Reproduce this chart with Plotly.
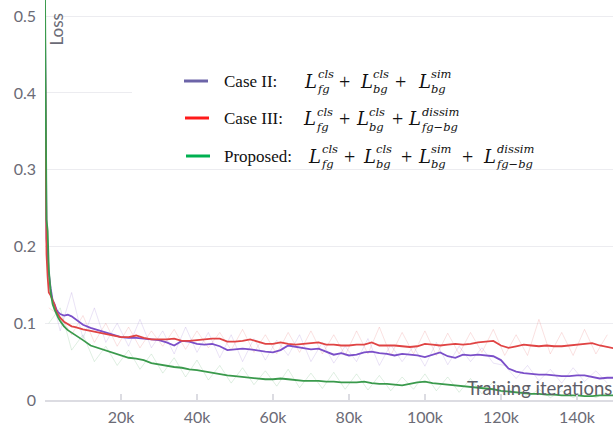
import plotly.graph_objects as go

# ---------------- data (iterations in thousands) ----------------
iters_k = [0, 0.2, 0.4, 0.7, 1.0, 1.5, 2.0, 2.5, 3, 3.5, 4, 5, 6, 7, 8, 9,
           10, 12, 14, 16, 18, 20, 22, 24, 26, 28, 30, 32, 34, 36, 38, 40,
           42, 44, 46, 48, 50, 52, 54, 56, 58, 60, 62, 64, 66, 68, 70, 72,
           74, 76, 78, 80, 82, 84, 86, 88, 90, 92, 94, 96, 98, 100, 102, 104,
           106, 108, 110, 112, 114, 116, 118, 120, 122, 124, 126, 128, 130, 132,
           134, 136, 138, 140, 142, 144, 146, 148, 150]

case2_smooth = [0.49, 0.33, 0.21, 0.19, 0.165, 0.145, 0.13, 0.125, 0.118, 0.114, 0.112, 0.110, 0.111, 0.109, 0.105, 0.101,
                0.098, 0.094, 0.091, 0.088, 0.085, 0.082, 0.081, 0.081, 0.080, 0.079, 0.078, 0.075, 0.071, 0.077, 0.076, 0.073,
                0.072, 0.073, 0.070, 0.065, 0.066, 0.067, 0.066, 0.064, 0.063, 0.062, 0.065, 0.071, 0.069, 0.067, 0.066, 0.067,
                0.063, 0.059, 0.061, 0.058, 0.059, 0.062, 0.063, 0.061, 0.060, 0.058, 0.060, 0.059, 0.058, 0.056, 0.059, 0.062,
                0.057, 0.055, 0.059, 0.058, 0.059, 0.058, 0.057, 0.052, 0.041, 0.037, 0.035, 0.034, 0.033, 0.033,
                0.032, 0.031, 0.031, 0.032, 0.032, 0.030, 0.028, 0.029, 0.029]

case3_smooth = [0.45, 0.25, 0.19, 0.16, 0.14, 0.136, 0.13, 0.124, 0.115, 0.111, 0.107, 0.102, 0.099, 0.096, 0.095, 0.093,
                0.092, 0.090, 0.088, 0.086, 0.084, 0.082, 0.082, 0.084, 0.081, 0.079, 0.079, 0.079, 0.080, 0.077, 0.077, 0.078,
                0.079, 0.080, 0.080, 0.076, 0.076, 0.077, 0.079, 0.076, 0.073, 0.073, 0.075, 0.073, 0.072, 0.073, 0.074, 0.075,
                0.072, 0.072, 0.071, 0.071, 0.072, 0.072, 0.075, 0.071, 0.071, 0.071, 0.070, 0.069, 0.070, 0.073, 0.072, 0.071,
                0.072, 0.073, 0.072, 0.073, 0.075, 0.076, 0.077, 0.071, 0.068, 0.070, 0.072, 0.071, 0.070, 0.071,
                0.070, 0.070, 0.071, 0.072, 0.073, 0.074, 0.071, 0.069, 0.067]

proposed_smooth = [0.53, 0.35, 0.235, 0.22, 0.17, 0.14, 0.125, 0.118, 0.112, 0.107, 0.103, 0.096, 0.091, 0.088, 0.085, 0.082,
                   0.078, 0.071, 0.068, 0.064, 0.061, 0.058, 0.055, 0.054, 0.052, 0.048, 0.046, 0.044, 0.043, 0.042, 0.040, 0.039,
                   0.037, 0.035, 0.034, 0.032, 0.031, 0.030, 0.029, 0.028, 0.027, 0.027, 0.028, 0.027, 0.026, 0.025, 0.025, 0.025,
                   0.024, 0.024, 0.023, 0.023, 0.023, 0.024, 0.022, 0.021, 0.021, 0.020, 0.019, 0.021, 0.023, 0.024, 0.022, 0.021,
                   0.020, 0.019, 0.018, 0.017, 0.016, 0.015, 0.014, 0.012, 0.011, 0.010, 0.009, 0.008, 0.008, 0.007,
                   0.007, 0.006, 0.006, 0.006, 0.005, 0.005, 0.006, 0.006, 0.006]

raw_iters_k = [1, 4, 7, 10, 13, 16, 19, 22, 25, 28, 31, 34, 37, 40, 43, 46, 49, 52, 55, 58,
               61, 64, 67, 70, 73, 76, 79, 82, 85, 88, 91, 94, 97, 100, 103, 106, 109, 112, 115, 118,
               121, 124, 127, 130, 133, 136, 139, 142, 145, 148]

case2_raw = [0.15, 0.09, 0.14, 0.08, 0.12, 0.075, 0.10, 0.07, 0.105, 0.068, 0.09, 0.06, 0.095, 0.062, 0.088, 0.055, 0.085, 0.05, 0.08, 0.052,
             0.078, 0.058, 0.085, 0.05, 0.075, 0.048, 0.07, 0.05, 0.08, 0.045, 0.072, 0.05, 0.07, 0.044, 0.075, 0.046, 0.07, 0.05, 0.068, 0.048,
             0.045, 0.028, 0.045, 0.025, 0.04, 0.022, 0.042, 0.024, 0.038, 0.022]
case3_raw = [0.12, 0.11, 0.085, 0.11, 0.075, 0.1, 0.07, 0.095, 0.068, 0.09, 0.07, 0.092, 0.066, 0.09, 0.068, 0.088, 0.065, 0.092, 0.062, 0.085,
             0.06, 0.088, 0.062, 0.09, 0.06, 0.085, 0.058, 0.09, 0.06, 0.095, 0.058, 0.088, 0.06, 0.09, 0.058, 0.087, 0.06, 0.088, 0.062, 0.092,
             0.058, 0.085, 0.058, 0.105, 0.06, 0.088, 0.058, 0.092, 0.06, 0.085]
proposed_raw = [0.10, 0.12, 0.065, 0.085, 0.05, 0.07, 0.045, 0.065, 0.04, 0.06, 0.035, 0.055, 0.03, 0.052, 0.026, 0.045, 0.022, 0.042, 0.02, 0.038,
                0.018, 0.04, 0.016, 0.035, 0.015, 0.036, 0.014, 0.034, 0.013, 0.032, 0.012, 0.03, 0.014, 0.034, 0.012, 0.03, 0.01, 0.028, 0.008, 0.024,
                0.006, 0.018, 0.004, 0.014, 0.003, 0.012, 0.003, 0.01, 0.003, 0.011]

x_tick_vals = [20, 40, 60, 80, 100, 120, 140]
x_tick_text = ["20k", "40k", "60k", "80k", "100k", "120k", "140k"]
y_tick_vals = [0, 0.1, 0.2, 0.3, 0.4, 0.5]
y_tick_text = ["0", "0.1", "0.2", "0.3", "0.4", "0.5"]

series_names = ["Case II:", "Case III:", "Proposed:"]
line_colors = ["#7b4fc9", "#e04444", "#3a9a4c"]
raw_colors = ["rgba(123,79,201,0.16)", "rgba(224,68,68,0.16)", "rgba(58,154,76,0.16)"]
legend_colors = ["#6c64a8", "#ff1a1a", "#00b050"]

smooth_sets = [case2_smooth, case3_smooth, proposed_smooth]
raw_sets = [case2_raw, case3_raw, proposed_raw]

# ---------------- figure ----------------
W, H = 613, 436
ML, MR, MT, MB = 45, 0, 0, 36
PW, PH = W - ML - MR, H - MT - MB


def px(x):
    return (x - ML) / PW


def py(y):
    return (MT + PH - y) / PH


fig = go.Figure()
for raw, col in zip(raw_sets, raw_colors):
    fig.add_trace(go.Scatter(x=raw_iters_k, y=raw, mode="lines",
                             line=dict(color=col, width=1), showlegend=False, hoverinfo="skip"))
for name, ys, col in zip(series_names, smooth_sets, line_colors):
    fig.add_trace(go.Scatter(x=iters_k, y=ys, mode="lines", name=name,
                             line=dict(color=col, width=1.8), showlegend=False))

grey = "#6b6b76"
tick_font = dict(family="Lato", size=16, color=grey)

fig.update_layout(
    width=W, height=H,
    margin=dict(l=ML, r=MR, t=MT, b=MB, pad=0),
    paper_bgcolor="white", plot_bgcolor="white",
    xaxis=dict(range=[0, 149.5], tickvals=x_tick_vals, ticktext=x_tick_text,
               showgrid=False, zeroline=False, showline=True, linecolor="#dcdce2", linewidth=2,
               ticks="inside", ticklen=6, tickwidth=1.5, tickcolor="#dcdce2",
               tickfont=tick_font, ticklabelstandoff=2),
    yaxis=dict(range=[0, 0.521], tickvals=y_tick_vals, ticktext=y_tick_text,
               showgrid=True, gridcolor="#ececf0", gridwidth=1, zeroline=False, showline=False,
               ticks="", tickfont=tick_font, ticklabelstandoff=8),
)

shapes = []
# white legend panel
shapes.append(dict(type="rect", xref="paper", yref="paper", x0=px(132), x1=px(613), y0=py(168), y1=py(20),
                   fillcolor="white", line=dict(width=0), layer="above"))

annotations = []
annotations.append(dict(text="Loss", xref="paper", yref="paper", x=px(56.5), y=py(30), textangle=-90,
                        showarrow=False, font=dict(family="Lato", size=17, color=grey),
                        xanchor="center", yanchor="middle"))
annotations.append(dict(text="Training iterations", xref="paper", yref="paper", x=1.0, y=py(388),
                        showarrow=False, font=dict(family="Lato", size=18.5, color="#5e5e68"),
                        xanchor="right", yanchor="middle", borderpad=0))

serif = "Liberation Serif"
mathf = "DejaVu Serif"
ink = "#111111"
legend_rows = [
    dict(y=81, label_x=223, sw=(184, 208),
         terms=[(303, "cls", "fg"), (359, "cls", "bg"), (417, "sim", "bg")], plus=[344, 400.5]),
    dict(y=118, label_x=223, sw=(185, 209),
         terms=[(302, "cls", "fg"), (355, "cls", "bg"), (407, "dissim", "fg\u2212bg")], plus=[344, 397]),
    dict(y=156, label_x=223, sw=(186, 210),
         terms=[(307, "cls", "fg"), (362, "cls", "bg"), (417, "sim", "bg"), (482, "dissim", "fg\u2212bg")],
         plus=[349, 406, 467]),
]

for row, name, col in zip(legend_rows, series_names, legend_colors):
    yc = row["y"]
    shapes.append(dict(type="line", xref="paper", yref="paper", x0=px(row["sw"][0]), x1=px(row["sw"][1]),
                       y0=py(yc), y1=py(yc), line=dict(color=col, width=3), layer="above"))
    annotations.append(dict(text=name, xref="paper", yref="paper", x=px(row["label_x"]), y=py(yc),
                            showarrow=False, xanchor="left", yanchor="middle", borderpad=0,
                            font=dict(family=serif, size=17, color=ink)))
    for lx, sup, sub in row["terms"]:
        annotations.append(dict(text="<i>L</i>", xref="paper", yref="paper", x=px(lx), y=py(yc),
                                showarrow=False, xanchor="left", yanchor="middle", borderpad=0,
                                font=dict(family=mathf, size=18, color=ink)))
        annotations.append(dict(text="<i>" + sup + "</i><br><i>" + sub + "</i>", xref="paper", yref="paper",
                                x=px(lx + 13), y=py(yc + 1), align="left",
                                showarrow=False, xanchor="left", yanchor="middle", borderpad=0,
                                font=dict(family=mathf, size=11.5, color=ink)))
    for pxp in row["plus"]:
        annotations.append(dict(text="+", xref="paper", yref="paper", x=px(pxp), y=py(yc + 1),
                                showarrow=False, xanchor="center", yanchor="middle", borderpad=0,
                                font=dict(family=serif, size=20, color=ink)))

fig.update_layout(shapes=shapes, annotations=annotations)
fig.write_html("out.html", config={"displayModeBar": False},
               post_script="document.body.style.margin='0';document.body.style.padding='0';")
